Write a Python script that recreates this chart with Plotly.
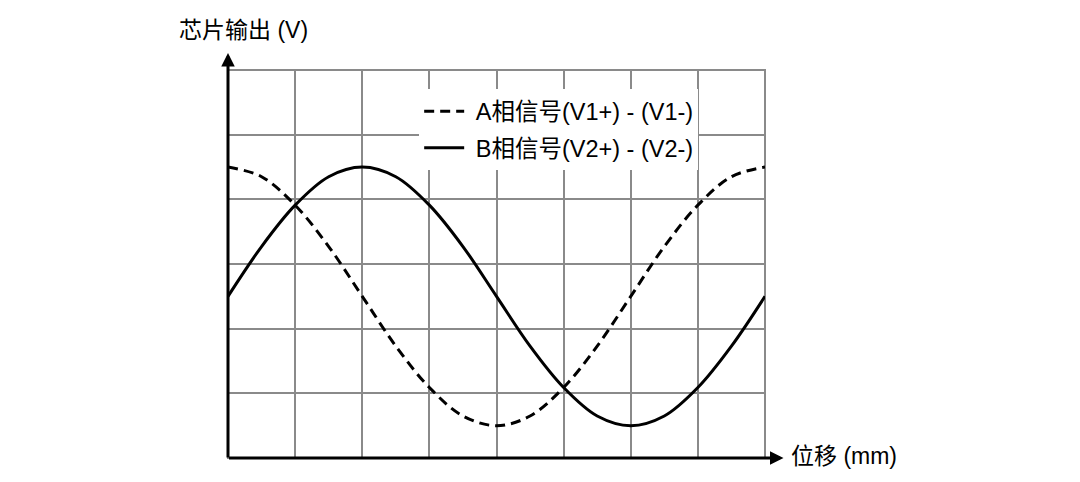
import plotly.graph_objects as go

# Displacement positions (grid units along x, 8 divisions)
x_pos = [0, 0.5, 1, 1.5, 2, 2.5, 3, 3.5, 4, 4.5, 5, 5.5, 6, 6.5, 7, 7.5, 8]
# A-phase signal (V1+)-(V1-), dashed (grid units)
a_vals = [4.5, 4.35, 3.91, 3.27, 2.5, 1.73, 1.09, 0.65, 0.5, 0.65, 1.09, 1.73, 2.5, 3.27, 3.91, 4.35, 4.5]
# B-phase signal (V2+)-(V2-), solid
b_vals = [2.5, 3.27, 3.91, 4.35, 4.5, 4.35, 3.91, 3.27, 2.5, 1.73, 1.09, 0.65, 0.5, 0.65, 1.09, 1.73, 2.5]

name_a = "A相信号(V1+) - (V1-)"
name_b = "B相信号(V2+) - (V2-)"
y_title = "芯片输出 (V)"
x_title = "位移 (mm)"

FONT = "Liberation Sans, Arial, Noto Sans CJK SC, sans-serif"
GRID = "#8a8a8a"

fig = go.Figure()
fig.add_trace(go.Scatter(x=x_pos, y=a_vals, mode="lines", name="\u00a0" + name_a,
                         line=dict(color="black", width=3, dash="10px,6px", shape="spline"),
                         legendgroup="a"))
fig.add_trace(go.Scatter(x=x_pos, y=b_vals, mode="lines", name="\u00a0" + name_b,
                         line=dict(color="black", width=3, shape="spline"),
                         legendgroup="b"))

fig.update_layout(
    width=1080, height=482,
    margin=dict(l=220, r=323, t=62, b=32),
    paper_bgcolor="white", plot_bgcolor="white",
    font=dict(family=FONT, size=23, color="black"),
    showlegend=True,
    legend=dict(x=0.356, y=0.95, xanchor="left", yanchor="top",
                bgcolor="white", borderwidth=0, font=dict(size=23.5),
                itemwidth=40, traceorder="grouped", tracegroupgap=3),
    xaxis=dict(range=[0, 8], dtick=1, tick0=0, showgrid=True, gridcolor=GRID, gridwidth=2,
               showticklabels=False, zeroline=False, showline=False, ticks=""),
    yaxis=dict(range=[0, 6], dtick=1, tick0=0, showgrid=True, gridcolor=GRID, gridwidth=2,
               showticklabels=False, zeroline=False, showline=False, ticks=""),
    shapes=[
        dict(type="rect", xref="paper", yref="paper", x0=0, y0=0, x1=1, y1=1,
             line=dict(color=GRID, width=2), layer="below"),
    ],
    annotations=[
        # x axis with arrow
        dict(xref="paper", yref="paper", x=1.0345, y=0, ax=-556, ay=0, text="",
             showarrow=True, arrowhead=2, arrowsize=0.9, arrowwidth=3, arrowcolor="black"),
        # y axis with arrow
        dict(xref="paper", yref="paper", x=0, y=1.044, ax=0, ay=406, text="",
             showarrow=True, arrowhead=2, arrowsize=0.9, arrowwidth=3, arrowcolor="black"),
        dict(xref="paper", yref="paper", x=-0.095, y=1.103, xanchor="left", yanchor="middle",
             text=y_title, showarrow=False, font=dict(size=23)),
        dict(xref="paper", yref="paper", x=1.0445, y=0.005, xanchor="left", yanchor="middle",
             text=x_title, showarrow=False, font=dict(size=23)),
    ],
)

fig.write_html("out.html")
